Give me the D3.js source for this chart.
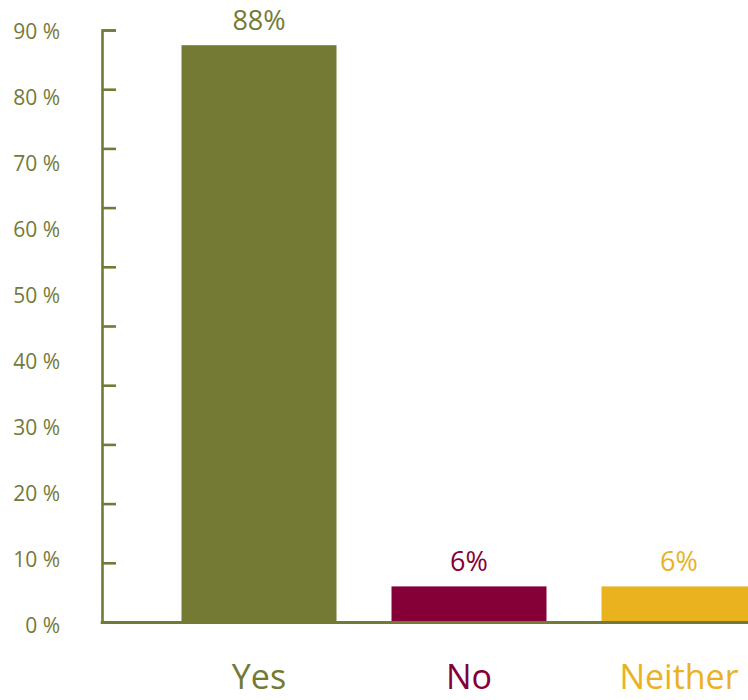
<!DOCTYPE html>
<html>
<head>
<meta charset="utf-8">
<script src="https://cdn.jsdelivr.net/npm/d3@7"></script>
<style>
  html, body { margin: 0; padding: 0; background: #ffffff; }
  svg { display: block; }
  text { font-family: "Open Sans", Lato, sans-serif; }
</style>
</head>
<body>
<svg id="chart" width="748" height="700"></svg>
<script>
// ---- data ----
const categories = ["Yes", "No", "Neither"];
const values = [88, 6, 6];
const valueLabels = ["88%", "6%", "6%"];
const colors = ["#747a34", "#850036", "#eab21e"];
const yTickValues = [0, 10, 20, 30, 40, 50, 60, 70, 80, 90];
const yTickLabels = ["0 %", "10 %", "20 %", "30 %", "40 %", "50 %", "60 %", "70 %", "80 %", "90 %"];
const axisMarkSteps = [0, 1, 2, 3, 4, 5, 6, 7, 8, 9, 10];

// ---- layout ----
const axisColor = "#737a38";
const svg = d3.select("#chart");
const axisX = 102;
const baseline = 622;

const y = d3.scaleLinear().domain([0, 90]).range([626, 32]);
const markScale = d3.scaleLinear().domain([0, 10]).range([baseline, 30]);
const x = d3.scaleBand().domain(categories).range([181.5, 756.5])
  .paddingInner(55 / 210).paddingOuter(0);

// bars
svg.append("g").selectAll("rect")
  .data(categories)
  .join("rect")
  .attr("x", d => x(d))
  .attr("width", x.bandwidth())
  .attr("y", (d, i) => y(values[i]))
  .attr("height", (d, i) => baseline - y(values[i]))
  .attr("fill", (d, i) => colors[i]);

// value labels
svg.append("g").selectAll("text")
  .data(categories)
  .join("text")
  .attr("x", d => x(d) + x.bandwidth() / 2)
  .attr("y", (d, i) => y(values[i]) - 15)
  .attr("text-anchor", "middle")
  .attr("font-size", 27)
  .attr("fill", (d, i) => colors[i])
  .text((d, i) => valueLabels[i]);

// category labels
svg.append("g").selectAll("text")
  .data(categories)
  .join("text")
  .attr("x", d => x(d) + x.bandwidth() / 2)
  .attr("y", 689)
  .attr("text-anchor", "middle")
  .attr("font-size", 34)
  .attr("fill", (d, i) => colors[i])
  .text(d => d);

// y axis marks (decorative ticks)
const yAxis = d3.axisRight(markScale).tickValues(axisMarkSteps)
  .tickSize(14).tickSizeOuter(14).tickFormat("");
const gy = svg.append("g").attr("transform", `translate(${axisX},0)`).call(yAxis);
gy.selectAll("path.domain").attr("stroke", axisColor).attr("stroke-width", 2.6).attr("fill", "none");
gy.selectAll(".tick line").attr("stroke", axisColor).attr("stroke-width", 2.6);

// x axis line
svg.append("line")
  .attr("x1", axisX - 1.3).attr("x2", 748)
  .attr("y1", baseline + 0.5).attr("y2", baseline + 0.5)
  .attr("stroke", axisColor).attr("stroke-width", 3);

// y tick labels
svg.append("g").selectAll("text")
  .data(yTickValues)
  .join("text")
  .attr("x", 60)
  .attr("y", d => y(d))
  .attr("dy", "0.35em")
  .attr("text-anchor", "end")
  .attr("font-size", 21)
  .attr("fill", axisColor)
  .text((d, i) => yTickLabels[i]);
</script>
</body>
</html>
